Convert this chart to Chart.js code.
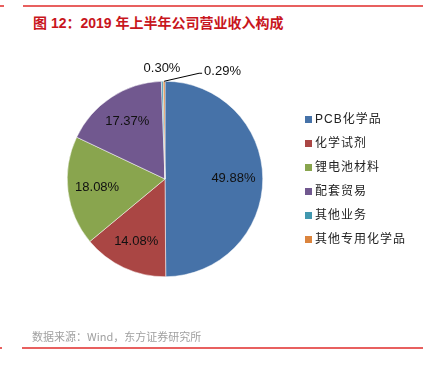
<!DOCTYPE html>
<html>
<head>
<meta charset="utf-8">
<script src="https://cdn.jsdelivr.net/npm/chart.js@4.4.1/dist/chart.umd.min.js"></script>
<style>
    body { margin: 0; background: #fff; }
    #wrap { position: relative; width: 434px; height: 366px; overflow: hidden; font-family: "Liberation Sans", "Noto Sans CJK SC", sans-serif; }
    #pie { position: absolute; left: 0; top: 0; }
    .rule { position: absolute; height: 2px; background: #e8605f; }
    #title { position: absolute; left: 33px; top: 12px; font-size: 14px; font-weight: bold; color: #c8161d; font-family: "Liberation Sans", "Noto Sans CJK SC", sans-serif; white-space: nowrap; }
    #source { position: absolute; left: 32px; top: 328px; font-size: 11px; color: #a0a0a0; font-family: "Noto Sans CJK SC", sans-serif; white-space: nowrap; }
    #legend { position: absolute; left: 305px; top: 110px; margin: 0; padding: 0; list-style: none; }
    #legend li { height: 24px; line-height: 18px; font-size: 12px; letter-spacing: 1px; color: #222; white-space: nowrap; font-family: "Liberation Sans", "Noto Sans CJK SC", sans-serif; }
    #legend span { display: inline-block; width: 7px; height: 7px; margin-right: 3px; vertical-align: 0px; }
</style>
</head>
<body>
<div id="wrap">
    <div class="rule" style="left:23px; top:5px; width:400px;"></div>
    <div class="rule" style="left:0; top:5px; width:4px;"></div>
    <div id="title">图 12：2019 年上半年公司营业收入构成</div>
    <canvas id="pie" width="434" height="366"></canvas>
    <ul id="legend"></ul>
    <div id="source">数据来源：Wind，东方证券研究所</div>
    <div class="rule" style="left:22px; top:347px; width:401px;"></div>
    <div class="rule" style="left:0; top:347px; width:2px;"></div>
</div>
<script>
// Revenue breakdown, 2019 H1 (%)
const categories = ['PCB化学品', '化学试剂', '锂电池材料', '配套贸易', '其他业务', '其他专用化学品'];
const shares = [49.88, 14.08, 18.08, 17.37, 0.30, 0.29];
const sliceColors = ['#4672a8', '#aa4644', '#89a54e', '#71588f', '#4198af', '#db843d'];

// Build legend from the arrays
const legendEl = document.getElementById('legend');
categories.forEach((name, i) => {
    const li = document.createElement('li');
    li.innerHTML = '<span style="background:' + sliceColors[i] + '"></span>' + name;
    legendEl.appendChild(li);
});

// Draw percentage labels on/around the slices
const sliceLabels = {
    id: 'sliceLabels',
    afterDatasetsDraw(chart) {
        const ctx = chart.ctx;
        const arcs = chart.getDatasetMeta(0).data;
        ctx.save();
        ctx.font = '13px "Liberation Sans", Arial, sans-serif';
        ctx.fillStyle = '#111';
        ctx.textBaseline = 'middle';
        arcs.forEach((arc, i) => {
            const text = shares[i].toFixed(2) + '%';
            const mid = (arc.startAngle + arc.endAngle) / 2;
            const r = arc.outerRadius;
            if (shares[i] > 5) {
                const k = 0.7;
                ctx.textAlign = 'center';
                ctx.fillText(text, arc.x + Math.cos(mid) * r * k, arc.y + Math.sin(mid) * r * k);
            } else if (i === 4) {
                // small slice, label just above the pie
                ctx.textAlign = 'center';
                ctx.fillText(text, arc.x - 3, arc.y - r - 13);
            } else {
                // smallest slice, label with leader line to the right
                const ex = arc.x + Math.cos(mid) * r;
                const ey = arc.y + Math.sin(mid) * r;
                ctx.strokeStyle = '#000';
                ctx.lineWidth = 1;
                ctx.beginPath();
                ctx.moveTo(ex, ey);
                ctx.lineTo(ex + 35, ey - 8);
                ctx.lineTo(ex + 38, ey - 8);
                ctx.stroke();
                ctx.textAlign = 'left';
                ctx.fillText(text, ex + 40, ey - 10);
            }
        });
        ctx.restore();
    }
};

new Chart(document.getElementById('pie'), {
    type: 'pie',
    data: {
        labels: categories,
        datasets: [{
            data: shares,
            backgroundColor: sliceColors,
            borderColor: '#ffffff',
            borderWidth: 0.5
        }]
    },
    options: {
        responsive: false,
        animation: false,
        layout: {
            padding: { left: 67, top: 81, right: 171, bottom: 89 }
        },
        plugins: {
            legend: { display: false },
            tooltip: { enabled: false }
        }
    },
    plugins: [sliceLabels]
});
</script>
</body>
</html>
